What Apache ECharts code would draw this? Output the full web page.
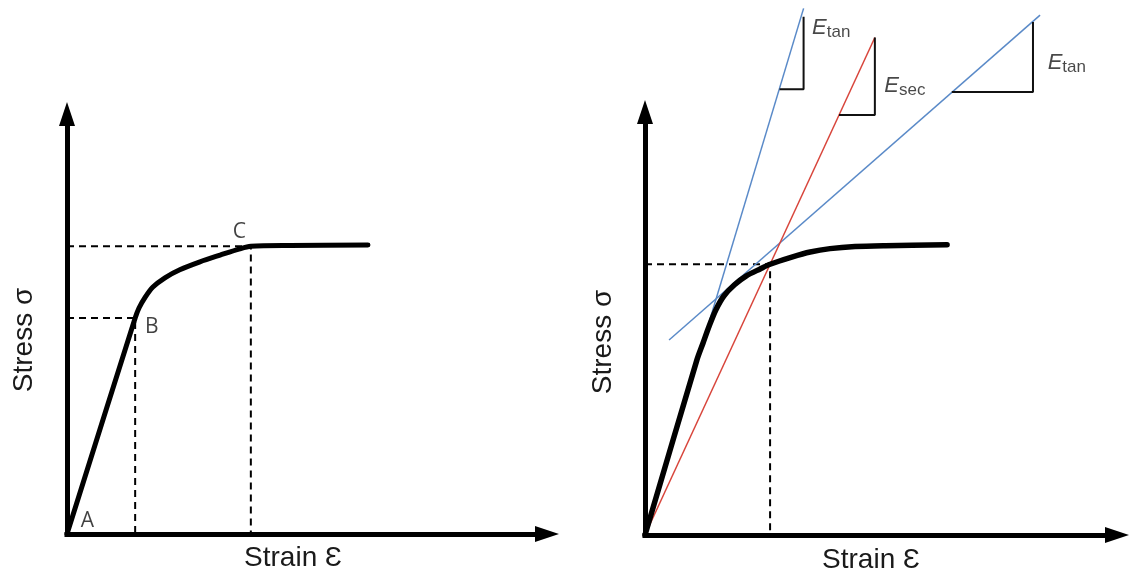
<!DOCTYPE html>
<html>
<head>
<meta charset="utf-8">
<title>Stress-strain moduli</title>
<script src="https://cdn.jsdelivr.net/npm/echarts@6/dist/echarts.min.js"></script>
<style>
  html, body { margin: 0; padding: 0; background: #ffffff; }
  #chart { width: 1131px; height: 581px; }
</style>
</head>
<body>
<div id="chart"></div>
<script>
// ---- Left panel: stress-strain curve with points A, B, C ----
const leftCurve = [[0, 0], [14.2, 51.4], [15.0, 53.8], [16.3, 56.4], [17.9, 58.8], [20.4, 61.0],
                   [23.5, 62.9], [27.7, 64.8], [31.9, 66.4], [36.0, 67.9], [38.3, 68.5],
                   [46.5, 68.7], [62.7, 68.8]];
const pointA = [0, 0];
const pointB = [14.2, 51.4];
const pointC = [38.3, 68.5];

// ---- Right panel: curve with tangent and secant moduli ----
const rightCurve = [[0, 0], [11.0, 41.4], [12.3, 45.4], [13.6, 49.4], [15.0, 53.2], [16.7, 56.5],
                    [18.9, 59.1], [21.4, 61.2], [24.4, 62.9], [26.5, 64.0], [31.1, 65.7],
                    [35.0, 66.9], [39.2, 67.7], [44.5, 68.2], [50.9, 68.4], [64.0, 68.6]];
const secantPoint = [26.5, 64.0];
const initialTangent = [[0, 0], [33.6, 124.5]];
const secantLine = [[0, 0], [48.7, 117.6]];
const laterTangent = [[5.1, 46.1], [83.7, 122.9]];
const triTan1 = [[33.6, 122.5], [33.6, 105.4], [28.5, 105.4]];
const triSec = [[48.7, 117.6], [48.7, 99.3], [41.1, 99.3]];
const triTan2 = [[82.2, 121.3], [82.2, 104.7], [65.0, 104.7]];
const labelTan1 = [35.3, 119.9];
const labelSec = [50.6, 106.1];
const labelTan2 = [85.2, 111.6];

const axisTitleX = 'Strain Ɛ';
const axisTitleY = 'Stress σ';

const FONT = '"Liberation Sans", Arial, sans-serif';
const INK = '#1a1a1a';
const BLUE = '#5a8ac8';
const RED = '#d8453b';

function arrowAxis(gridIndex) {
  return {
    type: 'value', gridIndex, min: 0, max: 100,
    axisLine: {
      show: true, onZero: false,
      symbol: ['none', 'triangle'], symbolSize: [16, 24],
      lineStyle: { color: '#000', width: 5, cap: 'square' }
    },
    axisTick: { show: false }, axisLabel: { show: false }, splitLine: { show: false }
  };
}

function path(data, xi, color, width, extra) {
  return Object.assign({
    type: 'line', xAxisIndex: xi, yAxisIndex: xi, data,
    symbol: 'none', clip: false, silent: true,
    lineStyle: { color, width }
  }, extra || {});
}

function dashed(pt, xi) {
  return path([[0, pt[1]], pt, [pt[0], 0]], xi, '#000', 2,
    { lineStyle: { color: '#000', width: 2, type: [7, 5] } });
}

function curve(data, xi, width) {
  return path(data, xi, '#000', width, {
    smooth: 0.3,
    lineStyle: { color: '#000', width, cap: 'round', join: 'round' }
  });
}

const eRich = {
  e: { fontSize: 22, fontStyle: 'italic', fontFamily: FONT, color: INK, lineHeight: 26 },
  s: { fontSize: 17, fontFamily: FONT, color: INK, lineHeight: 17, verticalAlign: 'bottom' }
};

function modulusLabel(pt, sub) {
  return {
    type: 'scatter', xAxisIndex: 1, yAxisIndex: 1, silent: true, clip: false,
    symbolSize: 1, itemStyle: { color: 'rgba(0,0,0,0)' },
    data: [pt],
    label: {
      show: true, position: 'right', distance: 0,
      formatter: '{e|E}{s|' + sub + '}', rich: eRich
    }
  };
}

function pointLabel(pt, text, offset) {
  return { value: pt, label: { formatter: text, offset } };
}

const chart = echarts.init(document.getElementById('chart'), null, { renderer: 'canvas' });
chart.setOption({
  animation: false,
  backgroundColor: '#ffffff',
  grid: [
    { left: 67, top: 114, width: 480, height: 420 },
    { left: 645, top: 112, width: 472, height: 423 }
  ],
  xAxis: [arrowAxis(0), arrowAxis(1)],
  yAxis: [arrowAxis(0), arrowAxis(1)],
  graphic: [
    { type: 'text', x: 24, y: 340, rotation: Math.PI / 2,
      style: { text: axisTitleY, fontSize: 28, fontFamily: FONT, fill: INK, align: 'center', verticalAlign: 'middle' } },
    { type: 'text', x: 293, y: 558,
      style: { text: axisTitleX, fontSize: 28, fontFamily: FONT, fill: INK, align: 'center', verticalAlign: 'middle' } },
    { type: 'text', x: 603, y: 342, rotation: Math.PI / 2,
      style: { text: axisTitleY, fontSize: 28, fontFamily: FONT, fill: INK, align: 'center', verticalAlign: 'middle' } },
    { type: 'text', x: 871, y: 560,
      style: { text: axisTitleX, fontSize: 28, fontFamily: FONT, fill: INK, align: 'center', verticalAlign: 'middle' } }
  ],
  series: [
    // left panel
    dashed(pointB, 0),
    dashed(pointC, 0),
    curve(leftCurve, 0, 5),
    {
      type: 'scatter', xAxisIndex: 0, yAxisIndex: 0, silent: true, clip: false,
      symbolSize: 1, itemStyle: { color: 'rgba(0,0,0,0)' },
      label: {
        show: true, position: [0, 0], align: 'center', verticalAlign: 'middle',
        fontSize: 21, fontFamily: '"Open Sans", sans-serif', color: '#111'
      },
      data: [pointLabel(pointA, 'A', [21, -12]), pointLabel(pointB, 'B', [17, 9]), pointLabel(pointC, 'C', [-11, -14])]
    },
    // right panel
    dashed(secantPoint, 1),
    path(initialTangent, 1, BLUE, 1.5),
    path(laterTangent, 1, BLUE, 1.5),
    path(secantLine, 1, RED, 1.5),
    path(triTan1, 1, '#111', 2),
    path(triSec, 1, '#111', 2),
    path(triTan2, 1, '#111', 2),
    curve(rightCurve, 1, 5.5),
    modulusLabel(labelTan1, 'tan'),
    modulusLabel(labelSec, 'sec'),
    modulusLabel(labelTan2, 'tan')
  ]
});
</script>
</body>
</html>
